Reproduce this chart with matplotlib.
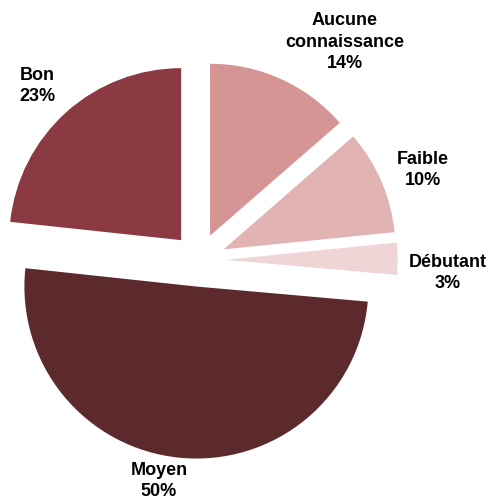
import matplotlib.pyplot as plt

labels = ["Aucune\nconnaissance", "Faible", "Débutant", "Moyen", "Bon"]
values = [13.6, 9.8, 3.0, 50.3, 23.3]
colors = ["#D59594", "#E2B3B3", "#EFD5D5", "#5C2A2C", "#8B3A42"]

# label centres in pixels (x from left, y from top)
label_px = [(345, 42), (423, 170), (448, 273), (159, 481), (37, 86)]

W, H = 490, 499
cx, cy, R = 199, 260, 172

fig = plt.figure(figsize=(W / 100, H / 100), dpi=100)
ax = fig.add_axes([0, 0, 1, 1])

ax.pie(values, colors=colors, startangle=90, counterclock=False,
       explode=[0.155] * len(values), radius=1, center=(0, 0),
       wedgeprops=dict(linewidth=0))

ax.set_xlim(-cx / R, (W - cx) / R)
ax.set_ylim(-(H - cy) / R, cy / R)
ax.set_aspect("equal")
ax.axis("off")

for lab, v, (px, py) in zip(labels, values, label_px):
    ax.text((px - cx) / R, (cy - py) / R, f"{lab}\n{v:.0f}%",
            ha="center", va="center", fontsize=13, fontweight="bold",
            family=["Liberation Sans", "DejaVu Sans"],
            linespacing=1.32)

fig.savefig("out.png", dpi=100)
